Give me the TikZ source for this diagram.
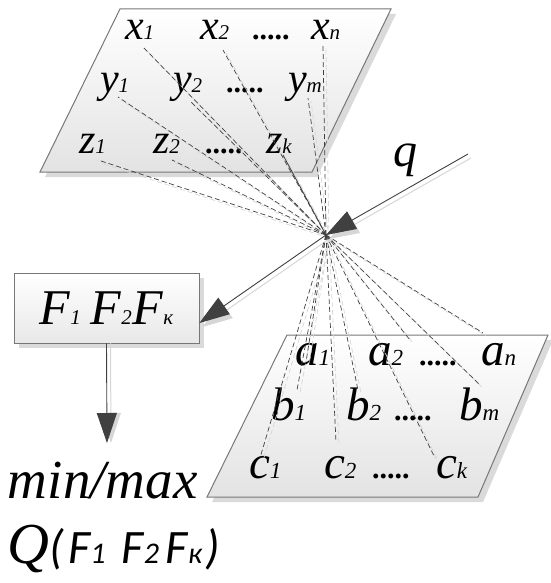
\documentclass[tikz,border=0pt]{standalone}
\usepackage{fontspec}
\usepackage{graphicx}
\setmainfont{Liberation Serif}
\newfontfamily\carl{Carlito}
\usetikzlibrary{arrows.meta}
\definecolor{dk}{HTML}{404040}
\definecolor{edgec}{HTML}{777777}
\definecolor{shad}{HTML}{DADADA}
\definecolor{lshad}{HTML}{D6D6D6}
\newcommand\myfs[1]{\fontsize{#1}{#1}\selectfont}
\newcommand\Vt[2]{{\myfs{42}\itshape #1}{\myfs{21}\itshape #2}}
\newcommand\Vb[2]{{\myfs{47}\itshape #1}{\myfs{23}\itshape #2}}
\newcommand\dotsT{{\myfs{30}\bfseries .....}}
\begin{document}
\begin{tikzpicture}[x=1pt,y=-1pt,
  lbl/.style={anchor=base west,inner sep=0pt,outer sep=0pt},
  dl/.style={draw=dk,dash pattern=on 5pt off 3pt,line width=0.7pt},
  dls/.style={draw=lshad,dash pattern=on 5pt off 3pt,line width=0.7pt},
  plane/.style={draw=edgec,line width=1pt,top color=white,bottom color=black!11},
  fbox/.style={draw=edgec,line width=0.8pt,top color=white,bottom color=black!9,
    minimum width=185pt,minimum height=70pt,inner sep=0pt},
  arr/.style={draw=dk,line width=0.9pt,-{Triangle[length=30pt,width=20pt]},dk},
  arrs/.style={draw=lshad,line width=1pt,-{Triangle[length=30pt,width=20pt]},lshad},
  solidl/.style={draw=dk,line width=0.8pt}]
\useasboundingbox (0,0) rectangle (550,583);
% planes
\fill[shad,shift={(5,5)}] (120,9) -- (391,9) -- (312,172) -- (40,172) -- cycle;
\draw[plane] (120,9) -- (391,9) -- (312,172) -- (40,172) -- cycle;
\fill[shad,shift={(5,5)}] (287,335) -- (548,335) -- (478,497) -- (207,497) -- cycle;
\draw[plane] (287,335) -- (548,335) -- (478,497) -- (207,497) -- cycle;
% box
\fill[shad] (19,278) rectangle (204,348);
\node[fbox] (F) at (106.5,308) {\myfs{50}\itshape\makebox[51pt][l]{F{\myfs{21}1}}\makebox[42pt][l]{F{\myfs{21}2}}F{\myfs{21}к}};
% labels top
\node[lbl] (x1) at (125,40) {\Vt{x}{1}};
\node[lbl] (x2) at (200,40) {\Vt{x}{2}};
\node[lbl] (xd) at (252,40) {\dotsT};
\node[lbl] (xn) at (311,40) {\Vt{x}{n}};
\node[lbl] (y1) at (100,93) {\Vt{y}{1}};
\node[lbl] (y2) at (173,93) {\Vt{y}{2}};
\node[lbl] (yd) at (226,93) {\dotsT};
\node[lbl] (ym) at (288,93) {\Vt{y}{m}};
\node[lbl] (z1) at (79,153) {\Vt{z}{1}};
\node[lbl] (z2) at (153,153) {\Vt{z}{2}};
\node[lbl] (zd) at (205,153) {\dotsT};
\node[lbl] (zk) at (266,153) {\Vt{z}{k}};
% labels bottom
\node[lbl] (a1) at (295,365) {\Vb{a}{1}};
\node[lbl] (a2) at (368,365) {\Vb{a}{2}};
\node[lbl] (ad) at (419,365) {\dotsT};
\node[lbl] (an) at (481,365) {\Vb{a}{n}};
\node[lbl] (b1) at (271,420) {\Vb{b}{1}};
\node[lbl] (b2) at (346,420) {\Vb{b}{2}};
\node[lbl] (bd) at (394,420) {\dotsT};
\node[lbl] (bm) at (459,420) {\Vb{b}{m}};
\node[lbl] (c1) at (249,478) {\Vb{c}{1}};
\node[lbl] (c2) at (324,478) {\Vb{c}{2}};
\node[lbl] (cd) at (372,478) {\dotsT};
\node[lbl] (ck) at (436,478) {\Vb{c}{k}};
% other texts
\node[lbl] (q) at (393,166) {\myfs{48}\itshape q};
\node[lbl] (mm) at (8,498) {\myfs{55}\itshape min/max};
\node[lbl] (Q) at (8,563) {{\myfs{58}\itshape Q}{\carl\itshape\myfs{48}(\hspace{4pt}F{\myfs{30}1}\hspace{16pt}F{\myfs{30}2}\hspace{7pt}F{\myfs{30}к}\hspace{4pt})}};
% coordinates
\coordinate (C) at (326,235);
\coordinate (qs) at (468,154);
\coordinate (tipQ) at (107,443);
\coordinate (tx1) at (143,47);
\coordinate (tx2) at (223,50);
\coordinate (txn) at (323,45);
\coordinate (ty1) at (118,97);
\coordinate (ty2) at (191,102);
\coordinate (tym) at (308,98);
\coordinate (tz1) at (98,160);
\coordinate (tz2) at (172,160);
\coordinate (tzk) at (283,155);
\coordinate (ba1) at (306,362);
\coordinate (ba2) at (410,340);
\coordinate (ban) at (483,333);
\coordinate (bb1) at (297,390);
\coordinate (bb2) at (358,390);
\coordinate (bbm) at (480,385);
\coordinate (bc1) at (260,458);
\coordinate (bc2) at (336,442);
\coordinate (bck) at (435,458);
% shadow lines
\foreach \e in {tx1,tx2,txn,ty1,ty2,tym,tz1,tz2,tzk,ba1,ba2,ban,bb1,bb2,bbm,bc1,bc2,bck}
  \draw[dls] ([shift={(3,3)}]C) -- ([shift={(3,3)}]\e);
\draw[arrs] ([shift={(3,4)}]qs) -- ([shift={(3,4)}]C);
\draw[arrs] ([shift={(3,4)}]C) -- ([shift={(3,4)},yshift=-15pt]F.east);
\draw[arrs] ([shift={(4,0)}]F.south) -- ([shift={(4,0)}]tipQ);
% dashed lines
\foreach \e in {tx1,tx2,txn,ty1,ty2,tym,tz1,tz2,ba1,ba2,ban,bb1,bb2,bbm,bc1,bc2,bck}
  \draw[dl] (C) -- (\e);
\draw[solidl] (tzk) -- (C);
% arrows
\draw[arr] (qs) -- (C);
\draw[arr] (C) -- ([yshift=-15pt]F.east);
\draw[arr] (F.south) -- (tipQ);
\end{tikzpicture}
\end{document}
